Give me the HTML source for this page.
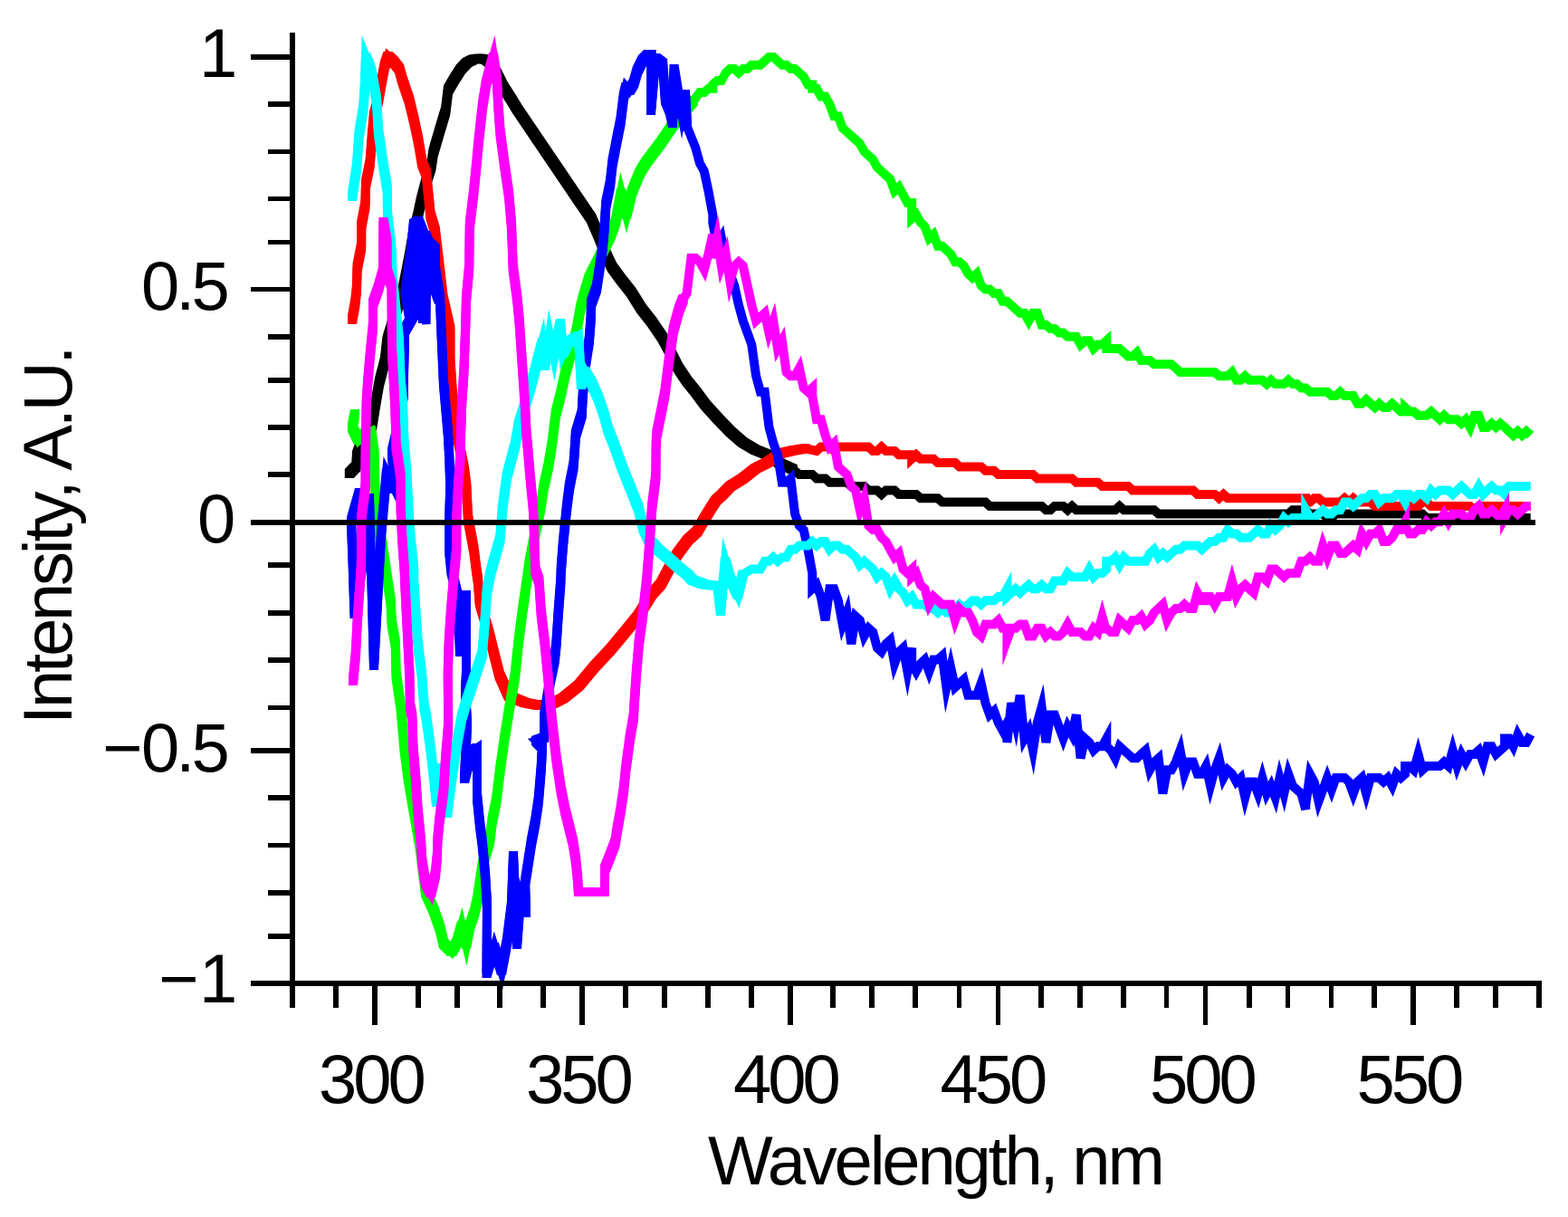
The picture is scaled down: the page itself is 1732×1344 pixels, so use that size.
<!DOCTYPE html>
<html><head><meta charset="utf-8"><title>Intensity vs Wavelength</title><style>
html,body{margin:0;padding:0;background:#fff;overflow:hidden;}
svg{display:block;}
text{font-family:"Liberation Sans",Arial,sans-serif;font-size:76px;fill:#000;letter-spacing:-4px;}
text.t{letter-spacing:-3.2px;}
</style></head><body>
<svg width="1732" height="1344" viewBox="0 0 1732 1344" xmlns="http://www.w3.org/2000/svg">
<rect width="1732" height="1344" fill="#fff"/>
<g stroke-width="10" stroke-linejoin="miter" stroke-miterlimit="6" stroke-linecap="butt">
<path fill="#000" d="M380.8 518 388.5 510 398.5 510 398.5 520 390.8 528 380.8 528ZM388.5 510 389 498 399 498 399 508 398.5 520 388.5 520ZM389 498 392 490 402 490 402 500 399 508 389 508ZM392 490 400 480 410 480 410 490 402 500 392 500ZM400 480 406 465 416 465 416 475 410 490 400 490ZM406 465 410 440 420 440 420 450 416 475 406 475ZM410 440 414 417 424 417 424 427 420 450 410 450ZM414 417 420 394 430 394 430 404 424 427 414 427ZM420 394 422.5 371 432.5 371 432.5 381 430 404 420 404ZM422.5 371 429 350 439 350 439 360 432.5 381 422.5 381ZM429 350 435 332 445 332 445 342 439 360 429 360ZM435 332 438 325 448 325 448 335 445 342 435 342ZM438 325 442.5 302 452.5 302 452.5 312 448 335 438 335ZM442.5 302 447 279 457 279 457 289 452.5 312 442.5 312ZM447 279 451 256 461 256 461 266 457 289 447 289ZM451 256 456.6 233 466.6 233 466.6 243 461 266 451 266ZM456.6 233 460 217 470 217 470 227 466.6 243 456.6 243ZM460 217 465 198 475 198 475 208 470 227 460 227ZM465 198 471.3 179 481.3 179 481.3 189 475 208 465 208ZM471.3 179 473.6 163.6 483.6 163.6 483.6 173.6 481.3 189 471.3 189ZM473.6 163.6 480.3 140.5 490.3 140.5 490.3 150.5 483.6 173.6 473.6 173.6ZM480.3 140.5 487.2 117.4 497.2 117.4 497.2 127.4 490.3 150.5 480.3 150.5ZM487.2 117.4 490 94.3 500 94.3 500 104.3 497.2 127.4 487.2 127.4ZM490 94.3 496.7 82.7 506.7 82.7 506.7 92.7 500 104.3 490 104.3ZM496.7 82.7 504 71.2 514 71.2 514 81.2 506.7 92.7 496.7 92.7ZM504 71.2 511 64 521 64 521 74 514 81.2 504 81.2ZM511 64 518 60.5 528 60.5 528 70.5 521 74 511 74ZM518 60.5 525 59.5 535 59.5 535 69.5 528 70.5 518 70.5ZM525 59.5 535 59.5 542 61 542 71 532 71 525 69.5ZM532 61 542 61 548 66 548 76 538 76 532 71ZM538 66 548 66 554 77 554 87 544 87 538 76ZM544 77 554 77 561 91 561 101 551 101 544 87ZM551 91 561 91 570 105 570 115 560 115 551 101ZM560 105 570 105 576 115 576 125 566 125 560 115ZM566 115 576 115 586 129.8 586 139.8 576 139.8 566 125ZM576 129.8 586 129.8 600 150.4 600 160.4 590 160.4 576 139.8ZM590 150.4 600 150.4 610 165.2 610 175.2 600 175.2 590 160.4ZM600 165.2 610 165.2 619 178.5 619 188.5 609 188.5 600 175.2ZM609 178.5 619 178.5 630 194.7 630 204.7 620 204.7 609 188.5ZM620 194.7 630 194.7 644 215.4 644 225.4 634 225.4 620 204.7ZM634 215.4 644 215.4 658 236 658 246 648 246 634 225.4ZM648 236 658 236 667 257 667 267 657 267 648 246ZM657 257 667 257 674 275 674 285 664 285 657 267ZM664 275 674 275 681 290 681 300 671 300 664 285ZM671 290 681 290 690.5 303 690.5 313 680.5 313 671 300ZM680.5 303 690.5 303 702 317.6 702 327.6 692 327.6 680.5 313ZM692 317.6 702 317.6 713.6 336 713.6 346 703.6 346 692 327.6ZM703.6 336 713.6 336 725 350.4 725 360.4 715 360.4 703.6 346ZM715 350.4 725 350.4 736.7 367.7 736.7 377.7 726.7 377.7 715 360.4ZM726.7 367.7 736.7 367.7 745 383 745 393 735 393 726.7 377.7ZM735 383 745 383 754 401 754 411 744 411 735 393ZM744 401 754 401 764 416 764 426 754 426 744 411ZM754 416 764 416 773 427 773 437 763 437 754 426ZM763 427 773 427 783.9 441.8 783.9 451.8 773.9 451.8 763 437ZM773.9 441.8 783.9 441.8 797.7 457 797.7 467 787.7 467 773.9 451.8ZM787.7 457 797.7 457 811.6 471.6 811.6 481.6 801.6 481.6 787.7 467ZM801.6 471.6 811.6 471.6 825.4 483.4 825.4 493.4 815.4 493.4 801.6 481.6ZM815.4 483.4 825.4 483.4 839.3 491.7 839.3 501.7 829.3 501.7 815.4 493.4ZM829.3 491.7 839.3 491.7 853.1 497.2 853.1 507.2 843.1 507.2 829.3 501.7ZM843.1 497.2 853.1 497.2 867 507 867 517 857 517 843.1 507.2ZM857 507 867 507 880.9 513.2 880.9 523.2 870.9 523.2 857 517Z"/>
<polyline fill="none" stroke="#000" points="385.8,523 393.5,515 394,503 397,495 405,485 411,470 415,445 419,422 425,399 427.5,376 434,355 440,337 443,330 447.5,307 452,284 456,261 461.6,238 465,222 470,203 476.3,184 478.6,168.6 485.3,145.5 492.2,122.4 495,99.3 501.7,87.7 509,76.2 516,69 523,65.5 530,64.5 537,66 543,71 549,82 556,96 565,110 571,120 581,134.8 595,155.4 605,170.2 614,183.5 625,199.7 639,220.4 653,241 662,262 669,280 676,295 685.5,308 697,322.6 708.6,341 720,355.4 731.7,372.7 740,388 749,406 759,421 768,432 778.9,446.8 792.7,462 806.6,476.6 820.4,488.4 834.3,496.7 848.1,502.2 862,512 875.9,518.2 882.9,524.1 887.7,524.1 892.5,524.1 897.3,524.1 902,528.4 906.8,528.4 911.6,528.4 916.4,532.8 921.2,532.8 925.9,532.8 930.7,532.8 935.5,532.8 940.3,537.1 945.1,537.1 949.8,537.1 954.6,537.1 959.4,541.5 964.2,541.5 969,541.5 973.7,545.9 978.5,541.5 983.3,541.5 988.1,541.5 992.9,545.9 997.6,545.9 1002.4,545.9 1007.2,545.9 1012,545.9 1016.8,550.2 1021.5,550.2 1026.3,550.2 1031.1,550.2 1035.9,550.2 1040.7,554.5 1045.4,554.5 1050.2,554.5 1055,554.5 1059.8,554.5 1064.6,554.5 1069.3,554.5 1074.1,554.5 1078.9,554.5 1083.7,554.5 1088.5,554.5 1093.2,558.9 1098,558.9 1102.8,558.9 1107.6,558.9 1112.4,558.9 1117.1,558.9 1121.9,558.9 1126.7,558.9 1131.5,558.9 1136.3,558.9 1141,558.9 1145.8,558.9 1150.6,558.9 1155.4,563.2 1160.2,563.2 1164.9,558.9 1169.7,558.9 1174.5,558.9 1179.3,563.2 1184.1,558.9 1188.8,563.2 1193.6,563.2 1198.4,563.2 1203.2,563.2 1208,563.2 1212.7,563.2 1217.5,563.2 1222.3,563.2 1227.1,563.2 1231.9,563.2 1236.6,558.9 1241.4,563.2 1246.2,563.2 1251,563.2 1255.8,563.2 1260.5,563.2 1265.3,563.2 1270.1,563.2 1274.9,563.2 1279.7,567.6 1284.4,567.6 1289.2,567.6 1294,567.6 1298.8,567.6 1303.6,567.6 1308.3,567.6 1313.1,567.6 1317.9,567.6 1322.7,567.6 1327.5,567.6 1332.2,567.6 1337,567.6 1341.8,567.6 1346.6,567.6 1351.4,567.6 1356.1,567.6 1360.9,567.6 1365.7,567.6 1370.5,567.6 1375.3,567.6 1380,567.6 1384.8,567.6 1389.6,567.6 1394.4,567.6 1399.2,567.6 1403.9,567.6 1408.7,567.6 1413.5,567.6 1418.3,567.6 1423.1,567.6 1427.8,563.2 1432.6,563.2 1437.4,563.2 1442.2,563.2 1447,567.6 1451.7,567.6 1456.5,567.6 1461.3,567.6 1466.1,571.9 1470.9,571.9 1475.6,567.6 1480.4,567.6 1485.2,567.6 1490,567.6 1494.8,567.6 1499.5,567.6 1504.3,567.6 1509.1,567.6 1513.9,567.6 1518.7,567.6 1523.4,567.6 1528.2,567.6 1533,567.6 1537.8,567.6 1542.6,567.6 1547.3,567.6 1552.1,567.6 1556.9,567.6 1561.7,567.6 1566.5,567.6 1571.2,567.6 1576,571.9 1580.8,571.9 1585.6,571.9 1590.4,571.9 1595.1,571.9 1599.9,571.9 1604.7,571.9 1609.5,571.9 1614.3,571.9 1619,571.9 1623.8,571.9 1628.6,571.9 1633.4,571.9 1638.2,571.9 1642.9,571.9 1647.7,571.9 1652.5,571.9 1657.3,571.9 1662.1,571.9 1666.8,571.9 1671.6,571.9 1676.4,571.9 1681.2,571.9 1686,571.9 1690.7,571.9"/>
<path fill="#f00" d="M384 348 387.3 329.7 397.3 329.7 397.3 339.7 394 358 384 358ZM387.3 329.7 389 313.6 399 313.6 399 323.6 397.3 339.7 387.3 339.7ZM389 313.6 389.6 290.5 399.6 290.5 399.6 300.5 399 323.6 389 323.6ZM389.6 290.5 394.2 267 404.2 267 404.2 277 399.6 300.5 389.6 300.5ZM394.2 244 404.2 244 404.2 277 394.2 277ZM394.2 244 398.5 221 408.5 221 408.5 231 404.2 254 394.2 254ZM398.5 221 399 198 409 198 409 208 408.5 231 398.5 231ZM399 198 403.7 175 413.7 175 413.7 185 409 208 399 208ZM403.7 175 406 145 416 145 416 155 413.7 185 403.7 185ZM406 145 408 123 418 123 418 133 416 155 406 155ZM408 123 413 105 423 105 423 115 418 133 408 133ZM413 105 416.5 85 426.5 85 426.5 95 423 115 413 115ZM416.5 85 420 67 430 67 430 77 426.5 95 416.5 95ZM420 67 423.5 57 433.5 57 433.5 67 430 77 420 77ZM423.5 57 433.5 57 439 62 439 72 429 72 423.5 67ZM429 62 439 62 446 71 446 81 436 81 429 72ZM436 71 446 71 449.3 83 449.3 93 439.3 93 436 81ZM439.3 83 449.3 83 457 105.8 457 115.8 447 115.8 439.3 93ZM447 105.8 457 105.8 462.6 129 462.6 139 452.6 139 447 115.8ZM452.6 129 462.6 129 467.4 152 467.4 162 457.4 162 452.6 139ZM457.4 152 467.4 152 471.2 175 471.2 185 461.2 185 457.4 162ZM461.2 175 471.2 175 475.8 186.5 475.8 196.5 465.8 196.5 461.2 185ZM465.8 186.5 475.8 186.5 478.2 209.6 478.2 219.6 468.2 219.6 465.8 196.5ZM468.2 209.6 478.2 209.6 480.5 232.7 480.5 242.7 470.5 242.7 468.2 219.6ZM470.5 232.7 480.5 232.7 485.7 250 485.7 260 475.7 260 470.5 242.7ZM475.7 250 485.7 250 490.5 290.5 490.5 300.5 480.5 300.5 475.7 260ZM480.5 290.5 490.5 290.5 494.5 325 494.5 335 484.5 335 480.5 300.5ZM484.5 325 494.5 325 502.4 359.6 502.4 369.6 492.4 369.6 484.5 335ZM492.4 359.6 502.4 359.6 502.4 404.3 492.4 404.3ZM492.4 394.3 502.4 394.3 504.7 429 504.7 439 494.7 439 492.4 404.3ZM494.7 429 504.7 429 507 463.6 507 473.6 497 473.6 494.7 439ZM497 463.6 507 463.6 510 475 510 485 500 485 497 473.6ZM500 475 510 475 514 495 514 505 504 505 500 485ZM504 495 514 495 518 515 518 525 508 525 504 505ZM508 515 518 515 520.3 532.7 520.3 542.7 510.3 542.7 508 525ZM510.3 532.7 520.3 532.7 522 567.4 522 577.4 512 577.4 510.3 542.7ZM512 567.4 522 567.4 528.4 602 528.4 612 518.4 612 512 577.4ZM518.4 602 528.4 602 531.3 625 531.3 635 521.3 635 518.4 612ZM521.3 625 531.3 625 533 636.5 533 646.5 523 646.5 521.3 635ZM523 636.5 533 636.5 534.7 659.6 534.7 669.6 524.7 669.6 523 646.5ZM524.7 659.6 534.7 659.6 545.1 694.3 545.1 704.3 535.1 704.3 524.7 669.6ZM535.1 694.3 545.1 694.3 550.9 717.4 550.9 727.4 540.9 727.4 535.1 704.3ZM540.9 717.4 550.9 717.4 556.7 740.5 556.7 750.5 546.7 750.5 540.9 727.4ZM546.7 740.5 556.7 740.5 567 763.6 567 773.6 557 773.6 546.7 750.5ZM557 763.6 567 763.6 575 767 575 777 565 777 557 773.6ZM565 767 575 767 585 771 585 781 575 781 565 777ZM575 771 585 771 600 774 600 784 590 784 575 781ZM590 774 605 772 615 772 615 782 600 784 590 784ZM605 772 617 766 627 766 627 776 615 782 605 782ZM617 766 634.3 752 644.3 752 644.3 762 627 776 617 776ZM634.3 752 651.6 731.2 661.6 731.2 661.6 741.2 644.3 762 634.3 762ZM651.6 731.2 668.9 712.8 678.9 712.8 678.9 722.8 661.6 741.2 651.6 741.2ZM668.9 712.8 686.2 692 696.2 692 696.2 702 678.9 722.8 668.9 722.8ZM686.2 692 700 675 710 675 710 685 696.2 702 686.2 702ZM700 675 715 651 725 651 725 661 710 685 700 685ZM715 651 725 640 735 640 735 650 725 661 715 661ZM725 640 734 623 744 623 744 633 735 650 725 650ZM734 623 743 607 753 607 753 617 744 633 734 633ZM743 607 755 591 765 591 765 601 753 617 743 617ZM755 591 765 582 775 582 775 592 765 601 755 601ZM765 582 773 568 783 568 783 578 775 592 765 592ZM773 568 781 555 791 555 791 565 783 578 773 578ZM781 555 786.3 547 796.3 547 796.3 557 791 565 781 565ZM786.3 547 792 542 802 542 802 552 796.3 557 786.3 557ZM792 542 801.6 532 811.6 532 811.6 542 802 552 792 552ZM801.6 532 815.4 523.6 825.4 523.6 825.4 533.6 811.6 542 801.6 542ZM815.4 523.6 829.3 512.5 839.3 512.5 839.3 522.5 825.4 533.6 815.4 533.6ZM829.3 512.5 843.1 505.5 853.1 505.5 853.1 515.5 839.3 522.5 829.3 522.5ZM843.1 505.5 857 495.8 867 495.8 867 505.8 853.1 515.5 843.1 515.5ZM857 495.8 870.9 492.5 880.9 492.5 880.9 502.5 867 505.8 857 505.8ZM870.9 492.5 884.7 490.3 894.7 490.3 894.7 500.3 880.9 502.5 870.9 502.5Z"/>
<polyline fill="none" stroke="#f00" points="389,353 392.3,334.7 394,318.6 394.6,295.5 399.2,272 399.2,249 403.5,226 404,203 408.7,180 411,150 413,128 418,110 421.5,90 425,72 428.5,62 434,67 441,76 444.3,88 452,110.8 457.6,134 462.4,157 466.2,180 470.8,191.5 473.2,214.6 475.5,237.7 480.7,255 485.5,295.5 489.5,330 497.4,364.6 497.4,399.3 499.7,434 502,468.6 505,480 509,500 513,520 515.3,537.7 517,572.4 523.4,607 526.3,630 528,641.5 529.7,664.6 540.1,699.3 545.9,722.4 551.7,745.5 562,768.6 570,772 580,776 595,779 610,777 622,771 639.3,757 656.6,736.2 673.9,717.8 691.2,697 705,680 720,656 730,645 739,628 748,612 760,596 770,587 778,573 786,560 791.3,552 797,547 806.6,537 820.4,528.6 834.3,517.5 848.1,510.5 862,500.8 875.9,497.5 889.7,495.3 902,498 906.8,493.6 911.6,493.6 916.4,493.6 921.2,498 925.9,493.6 930.7,493.6 935.5,493.6 940.3,493.6 945.1,493.6 949.8,493.6 954.6,493.6 959.4,493.6 964.2,498 969,498 973.7,493.6 978.5,498 983.3,498 988.1,498 992.9,502.3 997.6,502.3 1002.4,502.3 1007.2,502.3 1007.2,506.7 1012,502.3 1016.8,506.7 1021.5,506.7 1026.3,506.7 1031.1,506.7 1035.9,511 1040.7,511 1045.4,511 1050.2,511 1055,511 1059.8,515.4 1064.6,515.4 1069.3,515.4 1074.1,515.4 1078.9,515.4 1083.7,515.4 1088.5,519.8 1093.2,519.8 1098,519.8 1102.8,524.1 1107.6,524.1 1112.4,524.1 1117.1,524.1 1121.9,524.1 1126.7,524.1 1131.5,524.1 1136.3,524.1 1141,524.1 1145.8,528.4 1150.6,528.4 1155.4,528.4 1160.2,528.4 1164.9,528.4 1169.7,528.4 1174.5,528.4 1179.3,528.4 1184.1,528.4 1188.8,532.8 1193.6,532.8 1198.4,532.8 1203.2,532.8 1208,532.8 1212.7,532.8 1217.5,537.1 1222.3,537.1 1227.1,537.1 1231.9,537.1 1236.6,537.1 1241.4,537.1 1246.2,537.1 1251,541.5 1255.8,541.5 1260.5,541.5 1265.3,541.5 1270.1,541.5 1274.9,541.5 1279.7,541.5 1284.4,541.5 1289.2,541.5 1294,541.5 1298.8,541.5 1303.6,541.5 1308.3,541.5 1313.1,541.5 1317.9,541.5 1322.7,545.9 1327.5,545.9 1332.2,545.9 1337,545.9 1341.8,545.9 1346.6,550.2 1351.4,545.9 1356.1,550.2 1360.9,550.2 1365.7,550.2 1370.5,550.2 1375.3,550.2 1380,550.2 1384.8,550.2 1389.6,550.2 1394.4,550.2 1399.2,550.2 1403.9,550.2 1408.7,550.2 1413.5,550.2 1418.3,550.2 1423.1,550.2 1427.8,550.2 1432.6,550.2 1437.4,550.2 1442.2,550.2 1442.2,554.5 1447,554.5 1451.7,550.2 1456.5,550.2 1461.3,554.5 1466.1,554.5 1470.9,554.5 1475.6,554.5 1480.4,554.5 1485.2,550.2 1490,554.5 1494.8,550.2 1499.5,554.5 1504.3,554.5 1509.1,554.5 1513.9,554.5 1518.7,558.9 1523.4,558.9 1528.2,558.9 1533,558.9 1537.8,558.9 1542.6,558.9 1547.3,558.9 1552.1,558.9 1556.9,558.9 1561.7,558.9 1566.5,558.9 1571.2,554.5 1576,554.5 1580.8,558.9 1585.6,558.9 1590.4,558.9 1595.1,558.9 1599.9,558.9 1604.7,558.9 1609.5,558.9 1614.3,558.9 1619,558.9 1623.8,558.9 1628.6,563.2 1633.4,558.9 1638.2,558.9 1642.9,558.9 1647.7,558.9 1652.5,558.9 1657.3,558.9 1662.1,558.9 1666.8,558.9 1671.6,558.9 1676.4,558.9 1681.2,558.9 1686,558.9 1690.7,558.9"/>
<path fill="#0f0" d="M384 467 387 452 397 452 397 462 394 477 384 477ZM384 467 394 467 401 481 401 491 391 491 384 477ZM391 481 399 473 409 473 409 483 401 491 391 491ZM399 473 405 471 415 471 415 481 409 483 399 483ZM405 471 415 471 418.7 498 418.7 508 408.7 508 405 481ZM408.7 498 418.7 498 419.3 532.7 419.3 542.7 409.3 542.7 408.7 508ZM409.3 532.7 419.3 532.7 421 567.4 421 577.4 411 577.4 409.3 542.7ZM411 567.4 421 567.4 427 595 427 605 417 605 411 577.4ZM417 595 427 595 433.1 636.5 433.1 646.5 423.1 646.5 417 605ZM423.1 636.5 433.1 636.5 436.6 659.6 436.6 669.6 426.6 669.6 423.1 646.5ZM426.6 659.6 436.6 659.6 437.7 682.7 437.7 692.7 427.7 692.7 426.6 669.6ZM427.7 682.7 437.7 682.7 441.8 705.8 441.8 715.8 431.8 715.8 427.7 692.7ZM431.8 705.8 441.8 705.8 442.6 740.5 442.6 750.5 432.6 750.5 431.8 715.8ZM432.6 740.5 442.6 740.5 447.6 775 447.6 785 437.6 785 432.6 750.5ZM437.6 775 447.6 775 451.6 821 451.6 831 441.6 831 437.6 785ZM441.6 821 451.6 821 456.2 856 456.2 866 446.2 866 441.6 831ZM446.2 856 456.2 856 462 890 462 900 452 900 446.2 866ZM452 890 462 890 469 930 469 940 459 940 452 900ZM459 930 469 930 475 980 475 990 465 990 459 940ZM465 980 475 980 484 1000 484 1010 474 1010 465 990ZM474 1000 484 1000 491 1020 491 1030 481 1030 474 1010ZM481 1020 491 1020 495 1037 495 1047 485 1047 481 1030ZM485 1037 495 1037 504 1046 504 1056 494 1056 485 1047ZM494 1046 500 1035 510 1035 510 1045 504 1056 494 1056ZM500 1035 505 1017 515 1017 515 1027 510 1045 500 1045ZM505 1017 515 1017 520 1038 520 1048 510 1048 505 1027ZM510 1038 514 1017 524 1017 524 1027 520 1048 510 1048ZM514 1017 519 1003 529 1003 529 1013 524 1027 514 1027ZM519 1003 522 990 532 990 532 1000 529 1013 519 1013ZM522 990 525 970 535 970 535 980 532 1000 522 1000ZM525 970 528 950 538 950 538 960 535 980 525 980ZM528 950 533 933 543 933 543 943 538 960 528 960ZM533 933 536 923 546 923 546 933 543 943 533 943ZM536 923 538.6 902 548.6 902 548.6 912 546 933 536 933ZM538.6 902 543.2 879 553.2 879 553.2 889 548.6 912 538.6 912ZM543.2 879 547.5 844.3 557.5 844.3 557.5 854.3 553.2 889 543.2 889ZM547.5 844.3 552.4 809.6 562.4 809.6 562.4 819.6 557.5 854.3 547.5 854.3ZM552.4 809.6 558 775 568 775 568 785 562.4 819.6 552.4 819.6ZM558 775 564 740.5 574 740.5 574 750.5 568 785 558 785ZM564 740.5 567.5 706 577.5 706 577.5 716 574 750.5 564 750.5ZM567.5 706 572 671 582 671 582 681 577.5 716 567.5 716ZM572 671 577 636.5 587 636.5 587 646.5 582 681 572 681ZM577 636.5 580 615 590 615 590 625 587 646.5 577 646.5ZM580 615 585 590 595 590 595 600 590 625 580 625ZM585 590 592.1 555.8 602.1 555.8 602.1 565.8 595 600 585 600ZM592.1 555.8 595.6 532.7 605.6 532.7 605.6 542.7 602.1 565.8 592.1 565.8ZM595.6 532.7 600.8 509.6 610.8 509.6 610.8 519.6 605.6 542.7 595.6 542.7ZM600.8 509.6 604.6 486.5 614.6 486.5 614.6 496.5 610.8 519.6 600.8 519.6ZM604.6 486.5 608.9 452 618.9 452 618.9 462 614.6 496.5 604.6 496.5ZM608.9 452 614.7 429 624.7 429 624.7 439 618.9 462 608.9 462ZM614.7 429 619.8 405.8 629.8 405.8 629.8 415.8 624.7 439 614.7 439ZM619.8 405.8 626.2 382.7 636.2 382.7 636.2 392.7 629.8 415.8 619.8 415.8ZM626.2 382.7 632 359.6 642 359.6 642 369.6 636.2 392.7 626.2 392.7ZM632 359.6 636 336.5 646 336.5 646 346.5 642 369.6 632 369.6ZM636 336.5 638.9 325 648.9 325 648.9 335 646 346.5 636 346.5ZM638.9 325 645.8 302 655.8 302 655.8 312 648.9 335 638.9 335ZM645.8 302 657.4 279 667.4 279 667.4 289 655.8 312 645.8 312ZM657.4 279 669 256 679 256 679 266 667.4 289 657.4 289ZM669 256 675 240 685 240 685 250 679 266 669 266ZM675 240 681 208 691 208 691 218 685 250 675 250ZM681 208 691 208 697 232 697 242 687 242 681 218ZM687 232 693 207 703 207 703 217 697 242 687 242ZM693 207 701.3 186.5 711.3 186.5 711.3 196.5 703 217 693 217ZM701.3 186.5 708.2 175 718.2 175 718.2 185 711.3 196.5 701.3 196.5ZM708.2 175 725.5 152 735.5 152 735.5 162 718.2 185 708.2 185ZM725.5 152 737 134.7 747 134.7 747 144.7 735.5 162 725.5 162ZM737 134.7 749 120 759 120 759 130 747 144.7 737 144.7ZM749 120 761 106 771 106 771 116 759 130 749 130Z"/>
<polyline fill="none" stroke="#0f0" points="392,457 389,472 396,486 404,478 410,476 413.7,503 414.3,537.7 416,572.4 422,600 428.1,641.5 431.6,664.6 432.7,687.7 436.8,710.8 437.6,745.5 442.6,780 446.6,826 451.2,861 457,895 464,935 470,985 479,1005 486,1025 490,1042 499,1051 505,1040 510,1022 515,1043 519,1022 524,1008 527,995 530,975 533,955 538,938 541,928 543.6,907 548.2,884 552.5,849.3 557.4,814.6 563,780 569,745.5 572.5,711 577,676 582,641.5 585,620 590,595 597.1,560.8 600.6,537.7 605.8,514.6 609.6,491.5 613.9,457 619.7,434 624.8,410.8 631.2,387.7 637,364.6 641,341.5 643.9,330 650.8,307 662.4,284 674,261 680,245 686,213 692,237 698,212 706.3,191.5 713.2,180 730.5,157 742,139.7 754,125 766,111 773,102.1 777.8,102.1 782.5,97.8 787.3,97.8 787.3,93.4 792.1,89.1 796.9,89.1 801.7,80.4 806.4,76 811.2,76 816,80.4 820.8,76 825.6,76 830.3,71.7 835.1,71.7 839.9,71.7 844.7,67.3 849.5,63 854.2,63 859,67.3 863.8,71.7 868.6,71.7 873.4,76 878.1,76 882.9,80.4 887.7,84.7 892.5,93.4 897.3,93.4 897.3,97.8 902,97.8 906.8,106.5 911.6,106.5 916.4,115.2 921.2,128.2 925.9,128.2 930.7,141.3 935.5,145.6 940.3,150 945.1,154.3 949.8,158.7 954.6,167.4 959.4,171.7 964.2,176.1 969,184.8 973.7,189.1 978.5,193.5 983.3,197.8 988.1,210.9 992.9,206.5 997.6,215.2 1002.4,223.9 1007.2,223.9 1007.2,241.3 1012,237 1016.8,245.7 1021.5,250 1026.3,263.1 1031.1,258.8 1035.9,271.8 1040.7,271.8 1045.4,276.1 1050.2,280.5 1055,289.2 1059.8,289.2 1064.6,293.6 1069.3,302.2 1074.1,306.6 1078.9,302.2 1083.7,315.3 1088.5,319.6 1093.2,319.6 1098,324 1102.8,324 1107.6,332.7 1112.4,332.7 1117.1,337.1 1121.9,341.4 1126.7,345.8 1131.5,345.8 1136.3,354.4 1141,345.8 1145.8,345.8 1150.6,358.8 1155.4,358.8 1160.2,363.1 1164.9,363.1 1169.7,367.5 1174.5,367.5 1179.3,371.8 1184.1,371.8 1188.8,371.8 1193.6,380.6 1198.4,376.2 1203.2,376.2 1208,384.9 1212.7,380.6 1217.5,380.6 1222.3,376.2 1222.3,384.9 1227.1,384.9 1231.9,384.9 1236.6,384.9 1241.4,389.2 1246.2,393.6 1251,393.6 1255.8,389.2 1260.5,397.9 1265.3,397.9 1270.1,397.9 1274.9,402.3 1279.7,402.3 1284.4,402.3 1289.2,402.3 1294,402.3 1298.8,406.6 1303.6,411 1308.3,411 1313.1,411 1317.9,411 1322.7,411 1327.5,411 1332.2,411 1337,411 1341.8,411 1346.6,415.3 1351.4,415.3 1356.1,415.3 1360.9,411 1365.7,419.7 1370.5,419.7 1375.3,415.3 1380,419.7 1384.8,419.7 1389.6,419.7 1394.4,419.7 1399.2,424.1 1403.9,419.7 1408.7,424.1 1413.5,424.1 1418.3,424.1 1423.1,419.7 1427.8,424.1 1432.6,424.1 1437.4,428.4 1442.2,428.4 1447,432.8 1451.7,432.8 1456.5,432.8 1461.3,432.8 1466.1,432.8 1470.9,437.1 1475.6,437.1 1480.4,432.8 1485.2,437.1 1490,437.1 1494.8,437.1 1499.5,445.8 1504.3,445.8 1509.1,441.4 1513.9,445.8 1518.7,450.1 1523.4,445.8 1528.2,450.1 1533,450.1 1537.8,445.8 1542.6,450.1 1547.3,454.5 1552.1,454.5 1552.1,450.1 1556.9,454.5 1561.7,454.5 1566.5,458.8 1571.2,458.8 1576,458.8 1580.8,454.5 1585.6,458.8 1590.4,463.2 1595.1,458.8 1599.9,463.2 1604.7,463.2 1609.5,463.2 1614.3,467.6 1619,463.2 1623.8,471.9 1628.6,458.8 1633.4,458.8 1638.2,471.9 1642.9,471.9 1647.7,467.6 1652.5,471.9 1657.3,467.6 1662.1,471.9 1666.8,476.2 1671.6,480.6 1676.4,476.2 1681.2,480.6 1686,476.2 1690.7,480.6"/>
<polygon fill="#00f" points="455.8,239 466.8,239 467.5,278 470.4,256 486,270 486,321 490.7,334 480,336 476,325 475.6,358 466.3,358.6 463,334 462,349 451.7,349 447,352 442.3,324 447,286 451,265"/>
<path fill="#00f" d="M383 571 392 539 402 539 402 549 393 581 383 581ZM383 571 393 571 395 625 395 635 385 635 383 581ZM385 625 395 625 396.5 673 396.5 683 386.5 683 385 635ZM386.5 673 399 595 409 595 409 605 396.5 683 386.5 683ZM399 595 403 545 413 545 413 555 409 605 399 605ZM403 545 413 545 418 730 418 740 408 740 403 555ZM408 730 416 585 426 585 426 595 418 740 408 740ZM416 585 422 517 432 517 432 527 426 595 416 595ZM422 517 432 517 441 535 441 545 431 545 422 527ZM428 495 438 495 441 535 441 545 431 545 428 505ZM428 495 435 465 445 465 445 475 438 505 428 505ZM435 465 441 429 451 429 451 439 445 475 435 475ZM441 406 451 406 451 439 441 439ZM441 406 441.6 383 451.6 383 451.6 393 451 416 441 416ZM441.6 383 442 360 452 360 452 370 451.6 393 441.6 393ZM442 360 454 339 464 339 464 349 452 370 442 370ZM447 295 457 295 464 339 464 349 454 349 447 305ZM447 295 452 242 462 242 462 252 457 305 447 305ZM452 242 457 240 467 240 467 250 462 252 452 252ZM457 240 467 240 470 295 470 305 460 305 457 250ZM460 295 470 295 472 347 472 357 462 357 460 305ZM462 347 465 255 475 255 475 265 472 357 462 357ZM465 255 475 255 483 275 483 285 473 285 465 265ZM473 275 483 275 491 325 491 335 481 335 473 285ZM481 325 491 325 492.4 359.6 492.4 369.6 482.4 369.6 481 335ZM482.4 359.6 492.4 359.6 495 417.4 495 427.4 485 427.4 482.4 369.6ZM485 417.4 495 417.4 500 475 500 485 490 485 485 427.4ZM490 475 500 475 501.2 498 501.2 508 491.2 508 490 485ZM491.2 498 501.2 498 502.4 532.7 502.4 542.7 492.4 542.7 491.2 508ZM491.2 567.4 492.4 532.7 502.4 532.7 502.4 542.7 501.2 577.4 491.2 577.4ZM491.2 567.4 501.2 567.4 501.2 612 491.2 612ZM491.2 602 501.2 602 503.5 625 503.5 635 493.5 635 491.2 612ZM493.5 625 503.5 625 511 655 511 665 501 665 493.5 635ZM501 655 511 655 513 715 513 725 503 725 501 665ZM503 715 510 652 520 652 520 662 513 725 503 725ZM510 652 520 652 520 750 510 750ZM509 760 510 740 520 740 520 750 519 770 509 770ZM509 760 519 760 521 795 521 805 511 805 509 770ZM508 855 511 795 521 795 521 805 518 865 508 865ZM508 855 516 825 526 825 526 835 518 865 508 865ZM516 825 522 821 532 821 532 831 526 835 516 835ZM522 821 532 821 532 885 522 885ZM522 875 532 875 535 905 535 915 525 915 522 885ZM525 905 535 905 537.6 925 537.6 935 527.6 935 525 915ZM527.6 925 537.6 925 541 961 541 971 531 971 527.6 935ZM531 961 541 961 543 995 543 1005 533 1005 531 971ZM532.5 1070 533 995 543 995 543 1005 542.5 1080 532.5 1080ZM532.5 1070 541 1041 551 1041 551 1051 542.5 1080 532.5 1080ZM541 1041 551 1041 559 1067 559 1077 549 1077 541 1051ZM549 1067 555 1035 565 1035 565 1045 559 1077 549 1077ZM555 1035 560 995 570 995 570 1005 565 1045 555 1045ZM560 995 562 940 572 940 572 950 570 1005 560 1005ZM562 940 572 940 576 1038 576 1048 566 1048 562 950ZM566 1038 570 985 580 985 580 995 576 1048 566 1048ZM570 985 580 985 586 1003 586 1013 576 1013 570 995ZM575 970 585 970 586 1003 586 1013 576 1013 575 980ZM575 970 582 925 592 925 592 935 585 980 575 980ZM582 925 586.4 902 596.4 902 596.4 912 592 935 582 935ZM586.4 902 589.8 879 599.8 879 599.8 889 596.4 912 586.4 912ZM589.8 879 592.7 844.3 602.7 844.3 602.7 854.3 599.8 889 589.8 889ZM592.7 844.3 594 820 604 820 604 830 602.7 854.3 592.7 854.3ZM587 813 597 813 604 820 604 830 594 830 587 823ZM587 813 596.2 809.6 606.2 809.6 606.2 819.6 597 823 587 823ZM596.2 786.5 606.2 786.5 606.2 819.6 596.2 819.6ZM596.2 786.5 598 775 608 775 608 785 606.2 796.5 596.2 796.5ZM598 775 603 745 613 745 613 755 608 785 598 785ZM603 745 607.7 723 617.7 723 617.7 733 613 755 603 755ZM607.7 723 609.5 705.8 619.5 705.8 619.5 715.8 617.7 733 607.7 733ZM609.5 705.8 611.8 671.2 621.8 671.2 621.8 681.2 619.5 715.8 609.5 715.8ZM611.8 671.2 614.4 636.5 624.4 636.5 624.4 646.5 621.8 681.2 611.8 681.2ZM614.4 636.5 614.7 625 624.7 625 624.7 635 624.4 646.5 614.4 646.5ZM614.7 625 617 595 627 595 627 605 624.7 635 614.7 635ZM617 595 621 555.8 631 555.8 631 565.8 627 605 617 605ZM621 555.8 623.9 532.7 633.9 532.7 633.9 542.7 631 565.8 621 565.8ZM623.9 532.7 628.5 509.6 638.5 509.6 638.5 519.6 633.9 542.7 623.9 542.7ZM628.5 509.6 630.2 486.5 640.2 486.5 640.2 496.5 638.5 519.6 628.5 519.6ZM630.2 486.5 630.8 475 640.8 475 640.8 485 640.2 496.5 630.2 496.5ZM630.8 475 637.7 452 647.7 452 647.7 462 640.8 485 630.8 485ZM637.7 452 638.9 429 648.9 429 648.9 439 647.7 462 637.7 462ZM638.9 429 642 395 652 395 652 405 648.9 439 638.9 439ZM642 395 645.8 371 655.8 371 655.8 381 652 405 642 405ZM645.8 371 647.6 348 657.6 348 657.6 358 655.8 381 645.8 381ZM647.6 348 648 330 658 330 658 340 657.6 358 647.6 358ZM648 330 653.9 313.6 663.9 313.6 663.9 323.6 658 340 648 340ZM653.9 313.6 657.4 290.5 667.4 290.5 667.4 300.5 663.9 323.6 653.9 323.6ZM657.4 290.5 660.8 267.4 670.8 267.4 670.8 277.4 667.4 300.5 657.4 300.5ZM660.8 267.4 662.8 244.3 672.8 244.3 672.8 254.3 670.8 277.4 660.8 277.4ZM662.8 244.3 664.3 221 674.3 221 674.3 231 672.8 254.3 662.8 254.3ZM664.3 221 669 198 679 198 679 208 674.3 231 664.3 231ZM669 198 671.5 175 681.5 175 681.5 185 679 208 669 208ZM671.5 175 675.9 152 685.9 152 685.9 162 681.5 185 671.5 185ZM675.9 152 680.5 129 690.5 129 690.5 139 685.9 162 675.9 162ZM680.5 129 684 101 694 101 694 111 690.5 139 680.5 139ZM684 101 686.5 91 696.5 91 696.5 101 694 111 684 111ZM686.5 91 696.5 91 700 95 700 105 690 105 686.5 101ZM690 95 695 87 705 87 705 97 700 105 690 105ZM695 87 699 73 709 73 709 83 705 97 695 97ZM699 73 705 61 715 61 715 71 709 83 699 83ZM705 61 711 55 721 55 721 65 715 71 705 71ZM711 55 724.5 55 724.5 65 711 65ZM714 117 714.5 55 724.5 55 724.5 65 724 127 714 127ZM714 117 719 59 729 59 729 69 724 127 714 127ZM719 59 729 59 737 65 737 75 727 75 719 69ZM727 65 737 65 740 105 740 115 730 115 727 75ZM730 105 740 105 745 117 745 127 735 127 730 115ZM735 117 745 117 748 131 748 141 738 141 735 127ZM738 131 739.5 71 749.5 71 749.5 81 748 141 738 141ZM739.5 71 749.5 71 755 105 755 115 745 115 739.5 81ZM745 105 755 105 758 121 758 131 748 131 745 115ZM748 121 752 99 762 99 762 109 758 131 748 131ZM752 99 762 99 764 135 764 145 754 145 752 109Z"/>
<polyline fill="none" stroke="#00f" points="397,544 388,576 390,630 391.5,678 404,600 408,550 413,735 421,590 427,522 436,540 433,500 440,470 446,434 446,411 446.6,388 447,365 459,344 452,300 457,247 462,245 465,300 467,352 470,260 478,280 486,330 487.4,364.6 490,422.4 495,480 496.2,503 497.4,537.7 496.2,572.4 496.2,607 498.5,630 506,660 508,720 515,657 515,745 514,765 516,800 513,860 521,830 527,826 527,880 530,910 532.6,930 536,966 538,1000 537.5,1075 546,1046 554,1072 560,1040 565,1000 567,945 571,1043 575,990 581,1008 580,975 587,930 591.4,907 594.8,884 597.7,849.3 599,825 592,818 601.2,814.6 601.2,791.5 603,780 608,750 612.7,728 614.5,710.8 616.8,676.2 619.4,641.5 619.7,630 622,600 626,560.8 628.9,537.7 633.5,514.6 635.2,491.5 635.8,480 642.7,457 643.9,434 647,400 650.8,376 652.6,353 653,335 658.9,318.6 662.4,295.5 665.8,272.4 667.8,249.3 669.3,226 674,203 676.5,180 680.9,157 685.5,134 689,106 691.5,96 695,100 700,92 704,78 710,66 716,60 719.5,60 719,122 724,64 732,70 735,110 740,122 743,136 744.5,76 750,110 753,126 757,104 759,140 768.2,163 773,180.4 777.8,189.1 782.5,210.9 787.3,237 787.3,245.7 792.1,271.8 796.9,263.1 801.7,289.2 806.4,302.2 811.2,315.3 816,337.1 820.8,354.4 825.6,367.5 830.3,380.6 835.1,415.3 839.9,432.8 844.7,432.8 849.5,471.9 854.2,489.3 859,502.3 863.8,532.8 868.6,532.8 873.4,528.4 878.1,567.6 882.9,580.6 887.7,585 892.5,606.8 897.3,632.9 897.3,650.2 902,645.9 906.8,658.9 911.6,685 916.4,650.2 921.2,650.2 925.9,663.3 930.7,689.4 935.5,676.4 940.3,711.1 945.1,680.7 949.8,685 954.6,702.4 959.4,693.8 964.2,698.1 969,715.5 973.7,719.8 978.5,711.1 983.3,706.8 988.1,732.9 992.9,719.8 997.6,715.5 1002.4,741.6 1007.2,715.5 1007.2,732.9 1012,741.6 1016.8,732.9 1021.5,728.5 1026.3,741.6 1031.1,728.5 1035.9,728.5 1040.7,724.2 1045.4,759 1050.2,737.2 1055,759 1059.8,754.6 1064.6,750.3 1069.3,767.7 1074.1,767.7 1078.9,767.7 1083.7,754.6 1088.5,776.4 1093.2,789.4 1098,785.1 1102.8,798.1 1107.6,806.8 1112.4,798.1 1112.4,819.9 1117.1,776.4 1121.9,798.1 1126.7,767.7 1131.5,815.5 1136.3,806.8 1141,828.6 1145.8,798.1 1150.6,780.8 1155.4,819.9 1160.2,789.4 1164.9,789.4 1169.7,802.5 1174.5,815.5 1179.3,802.5 1184.1,811.2 1188.8,789.4 1193.6,837.3 1198.4,815.5 1203.2,819.9 1208,828.6 1212.7,824.2 1217.5,824.2 1222.3,815.5 1222.3,824.2 1227.1,828.6 1231.9,837.3 1236.6,824.2 1241.4,828.6 1246.2,832.9 1251,837.3 1255.8,837.3 1260.5,832.9 1265.3,828.6 1270.1,850.3 1274.9,841.6 1279.7,837.3 1284.4,876.4 1289.2,850.3 1294,850.3 1298.8,841.6 1303.6,828.6 1308.3,854.7 1313.1,841.6 1317.9,841.6 1322.7,854.7 1327.5,854.7 1332.2,846 1337,867.8 1341.8,850.3 1346.6,837.3 1351.4,859 1356.1,850.3 1360.9,854.7 1365.7,863.4 1370.5,859 1375.3,880.8 1380,863.4 1384.8,863.4 1389.6,876.4 1394.4,859 1399.2,876.4 1403.9,867.8 1408.7,880.8 1413.5,859 1418.3,876.4 1423.1,854.7 1427.8,867.8 1432.6,872.1 1437.4,876.4 1442.2,893.8 1442.2,889.5 1447,854.7 1451.7,863.4 1456.5,885.1 1461.3,872.1 1466.1,859 1470.9,872.1 1475.6,859 1480.4,859 1485.2,859 1490,863.4 1494.8,876.4 1499.5,863.4 1504.3,859 1509.1,876.4 1513.9,859 1518.7,859 1523.4,859 1528.2,863.4 1533,859 1537.8,867.8 1542.6,854.7 1547.3,859 1552.1,854.7 1552.1,846 1556.9,846 1561.7,850.3 1566.5,832.9 1571.2,850.3 1576,846 1580.8,846 1585.6,846 1590.4,846 1595.1,841.6 1599.9,846 1604.7,828.6 1609.5,846 1614.3,832.9 1619,841.6 1623.8,832.9 1628.6,832.9 1633.4,828.6 1638.2,841.6 1642.9,824.2 1647.7,824.2 1652.5,832.9 1657.3,828.6 1662.1,824.2 1662.1,815.5 1666.8,815.5 1671.6,824.2 1676.4,811.2 1681.2,819.9 1686,819.9 1690.7,811.2"/>
<path fill="#0ff" d="M384 212 389 180 399 180 399 190 394 222 384 222ZM389 180 391.4 145 401.4 145 401.4 155 399 190 389 190ZM391.4 145 396.3 115 406.3 115 406.3 125 401.4 155 391.4 155ZM396.3 115 398 90 408 90 408 100 406.3 125 396.3 125ZM398 90 399 58 409 58 409 68 408 100 398 100ZM399 58 409 58 415 73 415 83 405 83 399 68ZM405 73 415 73 421 106 421 116 411 116 405 83ZM411 106 421 106 423 140 423 150 413 150 411 116ZM413 140 423 140 428 175 428 185 418 185 413 150ZM418 175 428 175 432.8 204 432.8 214 422.8 214 418 185ZM422.8 204 432.8 204 433 232.7 433 242.7 423 242.7 422.8 214ZM423 232.7 433 232.7 436 257 436 267 426 267 423 242.7ZM426 257 436 257 438 279 438 289 428 289 426 267ZM428 279 438 279 438.5 302 438.5 312 428.5 312 428 289ZM428.5 302 438.5 302 442 335 442 345 432 345 428.5 312ZM432 335 442 335 445.8 371 445.8 381 435.8 381 432 345ZM435.8 371 445.8 371 447.6 417.4 447.6 427.4 437.6 427.4 435.8 381ZM437.6 417.4 447.6 417.4 449.9 440.5 449.9 450.5 439.9 450.5 437.6 427.4ZM439.9 440.5 449.9 440.5 451 475 451 485 441 485 439.9 450.5ZM441 475 451 475 451.6 486.5 451.6 496.5 441.6 496.5 441 485ZM441.6 486.5 451.6 486.5 454.5 521 454.5 531 444.5 531 441.6 496.5ZM444.5 521 454.5 521 456.2 556 456.2 566 446.2 566 444.5 531ZM446.2 556 456.2 556 458.5 590.5 458.5 600.5 448.5 600.5 446.2 566ZM448.5 590.5 458.5 590.5 462.2 625 462.2 635 452.2 635 448.5 600.5ZM452 636.5 452.2 625 462.2 625 462.2 635 462 646.5 452 646.5ZM452 636.5 462 636.5 464.3 671 464.3 681 454.3 681 452 646.5ZM454.3 671 464.3 671 466.6 705.8 466.6 715.8 456.6 715.8 454.3 681ZM456.6 705.8 466.6 705.8 470.9 740.5 470.9 750.5 460.9 750.5 456.6 715.8ZM460.9 740.5 470.9 740.5 473.5 775 473.5 785 463.5 785 460.9 750.5ZM463.5 775 473.5 775 475.8 786.5 475.8 796.5 465.8 796.5 463.5 785ZM465.8 786.5 475.8 786.5 480.5 821 480.5 831 470.5 831 465.8 796.5ZM470.5 821 480.5 821 484.5 856 484.5 866 474.5 866 470.5 831ZM474.5 856 484.5 856 487 881 487 891 477 891 474.5 866ZM477 881 482 843 492 843 492 853 487 891 477 891ZM482 843 492 843 499 893 499 903 489 903 482 853ZM489 893 495 847 505 847 505 857 499 903 489 903ZM495 847 500 815 510 815 510 825 505 857 495 857ZM500 815 505 787 515 787 515 797 510 825 500 825ZM505 787 508.6 775 518.6 775 518.6 785 515 797 505 797ZM508.6 775 520.1 740.5 530.1 740.5 530.1 750.5 518.6 785 508.6 785ZM520.1 740.5 527.6 717.4 537.6 717.4 537.6 727.4 530.1 750.5 520.1 750.5ZM527.6 717.4 530.5 682.7 540.5 682.7 540.5 692.7 537.6 727.4 527.6 727.4ZM530.5 682.7 532.8 648 542.8 648 542.8 658 540.5 692.7 530.5 692.7ZM532.8 648 537.4 625 547.4 625 547.4 635 542.8 658 532.8 658ZM537.4 625 547.3 590.5 557.3 590.5 557.3 600.5 547.4 635 537.4 635ZM547.3 590.5 550.1 556 560.1 556 560.1 566 557.3 600.5 547.3 600.5ZM550.1 556 554.8 521 564.8 521 564.8 531 560.1 566 550.1 566ZM554.8 521 564 486.5 574 486.5 574 496.5 564.8 531 554.8 531ZM564 486.5 568 463.6 578 463.6 578 473.6 574 496.5 564 496.5ZM568 463.6 581 423 591 423 591 433 578 473.6 568 473.6ZM581 423 587 400 597 400 597 410 591 433 581 433ZM587 400 594 373 604 373 604 383 597 410 587 410ZM594 373 604 373 607 399 607 409 597 409 594 383ZM597 399 602 365 612 365 612 375 607 409 597 409ZM602 365 612 365 617 389 617 399 607 399 602 375ZM607 389 611 365 621 365 621 375 617 399 607 399ZM611 365 614 352 624 352 624 362 621 375 611 375ZM614 352 624 352 627 385 627 395 617 395 614 362ZM617 385 623 373 633 373 633 383 627 395 617 395ZM623 373 629 369 639 369 639 379 633 383 623 383ZM629 369 634 366 644 366 644 376 639 379 629 379ZM634 366 644 366 647 420 647 430 637 430 634 376ZM637 420 641 405 651 405 651 415 647 430 637 430ZM641 405 651 405 658 417 658 427 648 427 641 415ZM648 417 658 417 666 434.7 666 444.7 656 444.7 648 427ZM656 434.7 666 434.7 672 452 672 462 662 462 656 444.7ZM662 452 672 452 676.6 469.3 676.6 479.3 666.6 479.3 662 462ZM666.6 469.3 676.6 469.3 681 480 681 490 671 490 666.6 479.3ZM671 480 681 480 683.5 486.5 683.5 496.5 673.5 496.5 671 490ZM673.5 486.5 683.5 486.5 691.6 509.6 691.6 519.6 681.6 519.6 673.5 496.5ZM681.6 509.6 691.6 509.6 700.9 532.7 700.9 542.7 690.9 542.7 681.6 519.6ZM690.9 532.7 700.9 532.7 710.1 555.8 710.1 565.8 700.1 565.8 690.9 542.7ZM700.1 555.8 710.1 555.8 715.9 579 715.9 589 705.9 589 700.1 565.8ZM705.9 579 715.9 579 721 590 721 600 711 600 705.9 589ZM711 590 721 590 732 602 732 612 722 612 711 600ZM722 602 732 602 745 613 745 623 735 623 722 612ZM735 613 745 613 755 622 755 632 745 632 735 623ZM745 622 755 622 765 630 765 640 755 640 745 632ZM755 630 765 630 770 635.7 770 645.7 760 645.7 755 640ZM760 635.7 770 635.7 783.9 640.5 783.9 650.5 773.9 650.5 760 645.7ZM773.9 640.5 783.9 640.5 797.7 642 797.7 652 787.7 652 773.9 650.5ZM787.7 642 797.7 642 801 670 801 680 791 680 787.7 652ZM791 670 796 615 806 615 806 625 801 680 791 680ZM796 615 806 615 811.6 634.3 811.6 644.3 801.6 644.3 796 625ZM801.6 634.3 811.6 634.3 820 652 820 662 810 662 801.6 644.3ZM810 652 815.4 629.4 825.4 629.4 825.4 639.4 820 662 810 662Z"/>
<polyline fill="none" stroke="#0ff" points="389,217 394,185 396.4,150 401.3,120 403,95 404,63 410,78 416,111 418,145 423,180 427.8,209 428,237.7 431,262 433,284 433.5,307 437,340 440.8,376 442.6,422.4 444.9,445.5 446,480 446.6,491.5 449.5,526 451.2,561 453.5,595.5 457.2,630 457,641.5 459.3,676 461.6,710.8 465.9,745.5 468.5,780 470.8,791.5 475.5,826 479.5,861 482,886 487,848 494,898 500,852 505,820 510,792 513.6,780 525.1,745.5 532.6,722.4 535.5,687.7 537.8,653 542.4,630 552.3,595.5 555.1,561 559.8,526 569,491.5 573,468.6 586,428 592,405 599,378 602,404 607,370 612,394 616,370 619,357 622,390 628,378 634,374 639,371 642,425 646,410 653,422 661,439.7 667,457 671.6,474.3 676,485 678.5,491.5 686.6,514.6 695.9,537.7 705.1,560.8 710.9,584 716,595 727,607 740,618 750,627 760,635 765,640.7 778.9,645.5 792.7,647 796,675 801,620 806.6,639.3 815,657 820.4,634.4 830.3,628.5 835.1,628.5 839.9,628.5 844.7,619.8 849.5,619.8 854.2,615.4 859,619.8 863.8,615.4 868.6,615.4 873.4,606.8 878.1,606.8 882.9,602.4 887.7,602.4 892.5,602.4 897.3,598 902,602.4 906.8,598 911.6,598 916.4,606.8 921.2,602.4 925.9,602.4 930.7,606.8 935.5,606.8 940.3,611.1 945.1,615.4 949.8,624.1 954.6,619.8 959.4,624.1 964.2,628.5 969,637.2 973.7,632.9 978.5,637.2 983.3,650.2 988.1,641.5 992.9,650.2 997.6,654.6 1002.4,663.3 1007.2,658.9 1012,667.6 1016.8,667.6 1021.5,667.6 1026.3,672 1031.1,672 1035.9,676.4 1040.7,672 1045.4,676.4 1050.2,676.4 1055,672 1059.8,667.6 1064.6,672 1069.3,667.6 1074.1,663.3 1078.9,663.3 1083.7,667.6 1088.5,663.3 1093.2,663.3 1098,663.3 1102.8,658.9 1107.6,658.9 1112.4,650.2 1112.4,658.9 1117.1,654.6 1121.9,650.2 1126.7,654.6 1131.5,650.2 1136.3,645.9 1141,650.2 1145.8,650.2 1150.6,645.9 1155.4,650.2 1160.2,650.2 1164.9,641.5 1169.7,641.5 1174.5,641.5 1179.3,632.9 1184.1,637.2 1188.8,637.2 1193.6,637.2 1198.4,637.2 1203.2,628.5 1208,637.2 1212.7,632.9 1217.5,632.9 1222.3,628.5 1222.3,619.8 1227.1,619.8 1231.9,615.4 1236.6,624.1 1241.4,615.4 1246.2,619.8 1251,619.8 1255.8,619.8 1260.5,619.8 1265.3,619.8 1270.1,611.1 1274.9,606.8 1279.7,615.4 1284.4,611.1 1289.2,615.4 1294,611.1 1298.8,606.8 1303.6,606.8 1308.3,602.4 1313.1,602.4 1317.9,602.4 1322.7,602.4 1327.5,606.8 1332.2,602.4 1337,598 1341.8,598 1346.6,593.7 1351.4,593.7 1356.1,585 1360.9,589.4 1365.7,589.4 1370.5,593.7 1375.3,593.7 1380,593.7 1384.8,589.4 1389.6,585 1394.4,589.4 1399.2,589.4 1403.9,580.6 1408.7,585 1413.5,580.6 1418.3,571.9 1423.1,576.3 1427.8,571.9 1432.6,571.9 1437.4,571.9 1442.2,571.9 1442.2,563.2 1447,571.9 1451.7,571.9 1456.5,567.6 1461.3,563.2 1466.1,567.6 1470.9,567.6 1475.6,563.2 1480.4,563.2 1485.2,554.5 1490,554.5 1494.8,558.9 1499.5,554.5 1504.3,550.2 1509.1,550.2 1513.9,545.9 1518.7,545.9 1523.4,554.5 1528.2,550.2 1533,550.2 1537.8,550.2 1542.6,545.9 1547.3,545.9 1552.1,554.5 1552.1,545.9 1556.9,545.9 1561.7,550.2 1566.5,545.9 1571.2,545.9 1576,550.2 1580.8,541.5 1585.6,545.9 1590.4,541.5 1595.1,541.5 1599.9,541.5 1604.7,545.9 1609.5,541.5 1614.3,537.1 1619,541.5 1623.8,545.9 1628.6,545.9 1633.4,537.1 1638.2,545.9 1642.9,541.5 1647.7,537.1 1652.5,541.5 1657.3,541.5 1662.1,545.9 1662.1,541.5 1666.8,537.1 1671.6,537.1 1676.4,537.1 1681.2,537.1 1686,537.1 1690.7,537.1"/>
<path fill="#f0f" d="M385 747 387.9 717.4 397.9 717.4 397.9 727.4 395 757 385 757ZM387.9 717.4 389.6 682.7 399.6 682.7 399.6 692.7 397.9 727.4 387.9 727.4ZM389.6 682.7 392 648 402 648 402 658 399.6 692.7 389.6 692.7ZM392 648 393.7 625 403.7 625 403.7 635 402 658 392 658ZM393.7 625 394.2 602 404.2 602 404.2 612 403.7 635 393.7 635ZM394.2 567.4 404.2 567.4 404.2 612 394.2 612ZM394.2 567.4 398.6 532.7 408.6 532.7 408.6 542.7 404.2 577.4 394.2 577.4ZM398.6 498 408.6 498 408.6 542.7 398.6 542.7ZM398.6 498 399.1 475 409.1 475 409.1 485 408.6 508 398.6 508ZM399.1 475 399.7 440.5 409.7 440.5 409.7 450.5 409.1 485 399.1 485ZM399.7 440.5 401.2 417.4 411.2 417.4 411.2 427.4 409.7 450.5 399.7 450.5ZM401.2 417.4 404 385 414 385 414 395 411.2 427.4 401.2 427.4ZM404 385 407 355 417 355 417 365 414 395 404 395ZM407 330 417 330 417 365 407 365ZM407 330 413 313 423 313 423 323 417 340 407 340ZM413 313 418 295 428 295 428 305 423 323 413 323ZM418 295 418.4 240 428.4 240 428.4 250 428 305 418 305ZM418.4 240 428.4 240 432.5 263 432.5 273 422.5 273 418.4 250ZM422.5 263 432.5 263 432.5 305 422.5 305ZM422.5 295 432.5 295 437.5 310 437.5 320 427.5 320 422.5 305ZM427.5 310 437.5 310 438 382.7 438 392.7 428 392.7 427.5 320ZM428 382.7 438 382.7 440 417.4 440 427.4 430 427.4 428 392.7ZM430 417.4 440 417.4 441.2 440.5 441.2 450.5 431.2 450.5 430 427.4ZM431.2 440.5 441.2 440.5 442.4 475 442.4 485 432.4 485 431.2 450.5ZM432.4 475 442.4 475 442.4 496.5 432.4 496.5ZM432.4 486.5 442.4 486.5 447.6 521 447.6 531 437.6 531 432.4 496.5ZM437.6 521 447.6 521 447.6 566 437.6 566ZM437.6 556 447.6 556 449.3 590.5 449.3 600.5 439.3 600.5 437.6 566ZM439.3 590.5 449.3 590.5 451.8 625 451.8 635 441.8 635 439.3 600.5ZM441.8 625 451.8 625 452.2 636.5 452.2 646.5 442.2 646.5 441.8 635ZM442.2 636.5 452.2 636.5 453.9 671 453.9 681 443.9 681 442.2 646.5ZM443.9 671 453.9 671 455.6 705.8 455.6 715.8 445.6 715.8 443.9 681ZM445.6 705.8 455.6 705.8 457.4 740.5 457.4 750.5 447.4 750.5 445.6 715.8ZM447.4 740.5 457.4 740.5 458 775 458 785 448 785 447.4 750.5ZM448 775 458 775 460.3 786.5 460.3 796.5 450.3 796.5 448 785ZM450.3 786.5 460.3 786.5 461.4 821 461.4 831 451.4 831 450.3 796.5ZM451.4 821 461.4 821 464.3 856 464.3 866 454.3 866 451.4 831ZM454.3 856 464.3 856 466.6 890.5 466.6 900.5 456.6 900.5 454.3 866ZM456.6 890.5 466.6 890.5 470 925 470 935 460 935 456.6 900.5ZM460 925 470 925 471 945 471 955 461 955 460 935ZM461 945 471 945 475 970 475 980 465 980 461 955ZM465 970 475 970 481 981 481 991 471 991 465 980ZM471 981 476 960 486 960 486 970 481 991 471 991ZM476 960 478 940 488 940 488 950 486 970 476 970ZM478 940 478.2 925 488.2 925 488.2 935 488 950 478 950ZM478.2 925 480.3 902 490.3 902 490.3 912 488.2 935 478.2 935ZM480.3 902 485.1 867.4 495.1 867.4 495.1 877.4 490.3 912 480.3 912ZM485.1 867.4 487.2 832.7 497.2 832.7 497.2 842.7 495.1 877.4 485.1 877.4ZM487.2 832.7 490.1 798 500.1 798 500.1 808 497.2 842.7 487.2 842.7ZM490.1 775 500.1 775 500.1 808 490.1 808ZM489.7 740.5 499.7 740.5 500.1 775 500.1 785 490.1 785 489.7 750.5ZM489.7 740.5 490.7 705.8 500.7 705.8 500.7 715.8 499.7 750.5 489.7 750.5ZM490.7 705.8 493 671 503 671 503 681 500.7 715.8 490.7 715.8ZM493 671 495.9 636.5 505.9 636.5 505.9 646.5 503 681 493 681ZM495.9 636.5 497 625 507 625 507 635 505.9 646.5 495.9 646.5ZM497 625 499.3 602 509.3 602 509.3 612 507 635 497 635ZM499.3 567.4 509.3 567.4 509.3 612 499.3 612ZM499.3 567.4 501 532.7 511 532.7 511 542.7 509.3 577.4 499.3 577.4ZM501 532.7 503.6 498 513.6 498 513.6 508 511 542.7 501 542.7ZM503.6 498 504 475 514 475 514 485 513.6 508 503.6 508ZM504 475 505.1 440.5 515.1 440.5 515.1 450.5 514 485 504 485ZM505.1 440.5 507.4 405.8 517.4 405.8 517.4 415.8 515.1 450.5 505.1 450.5ZM507.4 405.8 509.1 359.6 519.1 359.6 519.1 369.6 517.4 415.8 507.4 415.8ZM509.1 359.6 510 325 520 325 520 335 519.1 369.6 509.1 369.6ZM510 325 513.2 290.5 523.2 290.5 523.2 300.5 520 335 510 335ZM513.2 290.5 513.8 244 523.8 244 523.8 254 523.2 300.5 513.2 300.5ZM513.8 244 518 209.6 528 209.6 528 219.6 523.8 254 513.8 254ZM518 209.6 521.5 175 531.5 175 531.5 185 528 219.6 518 219.6ZM521.5 175 523.6 152 533.6 152 533.6 162 531.5 185 521.5 185ZM523.6 152 528 112 538 112 538 122 533.6 162 523.6 162ZM528 112 532 87 542 87 542 97 538 122 528 122ZM532 87 540 58 550 58 550 68 542 97 532 97ZM540 58 550 58 554 85 554 95 544 95 540 68ZM544 85 554 85 555 106 555 116 545 116 544 95ZM545 106 555 106 557.4 140 557.4 150 547.4 150 545 116ZM547.4 140 557.4 140 562 175 562 185 552 185 547.4 150ZM552 175 562 175 567 209.6 567 219.6 557 219.6 552 185ZM557 209.6 567 209.6 570 244 570 254 560 254 557 219.6ZM560 244 570 244 571.7 290.5 571.7 300.5 561.7 300.5 560 254ZM561.7 290.5 571.7 290.5 576.3 325 576.3 335 566.3 335 561.7 300.5ZM566.3 325 576.3 325 578.5 348 578.5 358 568.5 358 566.3 335ZM568.5 348 578.5 348 580.9 383 580.9 393 570.9 393 568.5 358ZM570.9 383 580.9 383 584.8 440.5 584.8 450.5 574.8 450.5 570.9 393ZM574.8 440.5 584.8 440.5 586.5 475 586.5 485 576.5 485 574.8 450.5ZM576.5 475 586.5 475 587.7 486.5 587.7 496.5 577.7 496.5 576.5 485ZM577.7 486.5 587.7 486.5 590.6 521.2 590.6 531.2 580.6 531.2 577.7 496.5ZM580.6 521.2 590.6 521.2 594 556 594 566 584 566 580.6 531.2ZM584 556 594 556 595.2 590.5 595.2 600.5 585.2 600.5 584 566ZM585.2 590.5 595.2 590.5 596.4 625 596.4 635 586.4 635 585.2 600.5ZM586.4 625 596.4 625 600.4 636.5 600.4 646.5 590.4 646.5 586.4 635ZM590.4 636.5 600.4 636.5 602.7 671.2 602.7 681.2 592.7 681.2 590.4 646.5ZM592.7 671.2 602.7 671.2 606.8 705.8 606.8 715.8 596.8 715.8 592.7 681.2ZM596.8 705.8 606.8 705.8 610.2 740.5 610.2 750.5 600.2 750.5 596.8 715.8ZM600.2 740.5 610.2 740.5 613.1 775 613.1 785 603.1 785 600.2 750.5ZM603.1 775 613.1 775 614.3 786.5 614.3 796.5 604.3 796.5 603.1 785ZM604.3 786.5 614.3 786.5 619.5 832.7 619.5 842.7 609.5 842.7 604.3 796.5ZM609.5 832.7 619.5 832.7 624.7 867.4 624.7 877.4 614.7 877.4 609.5 842.7ZM614.7 867.4 624.7 867.4 629.3 890.5 629.3 900.5 619.3 900.5 614.7 877.4ZM619.3 890.5 629.3 890.5 637.9 925 637.9 935 627.9 935 619.3 900.5ZM627.9 925 637.9 925 641 945 641 955 631 955 627.9 935ZM631 945 641 945 643 965 643 975 633 975 631 955ZM633 965 643 965 644 980 644 990 634 990 633 975ZM634 980 657 980 657 990 634 990ZM647 980 673 980 673 990 647 990ZM663 955 673 955 673 990 663 990ZM663 955 669 940 679 940 679 950 673 965 663 965ZM669 940 674.7 925 684.7 925 684.7 935 679 950 669 950ZM674.7 925 676.4 913.6 686.4 913.6 686.4 923.6 684.7 935 674.7 935ZM676.4 913.6 680.5 890.5 690.5 890.5 690.5 900.5 686.4 923.6 676.4 923.6ZM680.5 890.5 683.9 867.4 693.9 867.4 693.9 877.4 690.5 900.5 680.5 900.5ZM683.9 867.4 686.2 844.3 696.2 844.3 696.2 854.3 693.9 877.4 683.9 877.4ZM686.2 844.3 690.9 809.6 700.9 809.6 700.9 819.6 696.2 854.3 686.2 854.3ZM690.9 809.6 694.9 786.5 704.9 786.5 704.9 796.5 700.9 819.6 690.9 819.6ZM694.9 786.5 695.5 775 705.5 775 705.5 785 704.9 796.5 694.9 796.5ZM695.5 775 697.8 740.5 707.8 740.5 707.8 750.5 705.5 785 695.5 785ZM697.8 740.5 700.7 705.8 710.7 705.8 710.7 715.8 707.8 750.5 697.8 750.5ZM700.7 705.8 705.3 671.2 715.3 671.2 715.3 681.2 710.7 715.8 700.7 715.8ZM705.3 671.2 709.3 636.5 719.3 636.5 719.3 646.5 715.3 681.2 705.3 681.2ZM709.3 636.5 710.2 625 720.2 625 720.2 635 719.3 646.5 709.3 646.5ZM710.2 625 712.8 590.5 722.8 590.5 722.8 600.5 720.2 635 710.2 635ZM712.8 590.5 715.1 555.8 725.1 555.8 725.1 565.8 722.8 600.5 712.8 600.5ZM715.1 555.8 719.4 521.2 729.4 521.2 729.4 531.2 725.1 565.8 715.1 565.8ZM719.4 521.2 719.7 486.5 729.7 486.5 729.7 496.5 729.4 531.2 719.4 531.2ZM719.7 486.5 720.3 475 730.3 475 730.3 485 729.7 496.5 719.7 496.5ZM720.3 475 725 452 735 452 735 462 730.3 485 720.3 485ZM725 452 729.5 429 739.5 429 739.5 439 735 462 725 462ZM729.5 429 733.8 394.3 743.8 394.3 743.8 404.3 739.5 439 729.5 439ZM733.8 394.3 738.8 359.6 748.8 359.6 748.8 369.6 743.8 404.3 733.8 404.3ZM738.8 359.6 745.1 336.5 755.1 336.5 755.1 346.5 748.8 369.6 738.8 369.6ZM745.1 336.5 749.8 325 759.8 325 759.8 335 755.1 346.5 745.1 346.5Z"/>
<polyline fill="none" stroke="#f0f" points="390,752 392.9,722.4 394.6,687.7 397,653 398.7,630 399.2,607 399.2,572.4 403.6,537.7 403.6,503 404.1,480 404.7,445.5 406.2,422.4 409,390 412,360 412,335 418,318 423,300 423.4,245 427.5,268 427.5,300 432.5,315 433,387.7 435,422.4 436.2,445.5 437.4,480 437.4,491.5 442.6,526 442.6,561 444.3,595.5 446.8,630 447.2,641.5 448.9,676 450.6,710.8 452.4,745.5 453,780 455.3,791.5 456.4,826 459.3,861 461.6,895.5 465,930 466,950 470,975 476,986 481,965 483,945 483.2,930 485.3,907 490.1,872.4 492.2,837.7 495.1,803 495.1,780 494.7,745.5 495.7,710.8 498,676 500.9,641.5 502,630 504.3,607 504.3,572.4 506,537.7 508.6,503 509,480 510.1,445.5 512.4,410.8 514.1,364.6 515,330 518.2,295.5 518.8,249 523,214.6 526.5,180 528.6,157 533,117 537,92 545,63 549,90 550,111 552.4,145 557,180 562,214.6 565,249 566.7,295.5 571.3,330 573.5,353 575.9,388 579.8,445.5 581.5,480 582.7,491.5 585.6,526.2 589,561 590.2,595.5 591.4,630 595.4,641.5 597.7,676.2 601.8,710.8 605.2,745.5 608.1,780 609.3,791.5 614.5,837.7 619.7,872.4 624.3,895.5 632.9,930 636,950 638,970 639,985 652,985 668,985 668,960 674,945 679.7,930 681.4,918.6 685.5,895.5 688.9,872.4 691.2,849.3 695.9,814.6 699.9,791.5 700.5,780 702.8,745.5 705.7,710.8 710.3,676.2 714.3,641.5 715.2,630 717.8,595.5 720.1,560.8 724.4,526.2 724.7,491.5 725.3,480 730,457 734.5,434 738.8,399.3 743.8,364.6 750.1,341.5 754.8,330 758.6,324 763.4,284.9 768.2,284.9 773,289.2 777.8,297.9 782.5,280.5 787.3,258.8 787.3,284.9 792.1,263.1 796.9,293.6 801.7,280.5 806.4,310.9 811.2,293.6 816,289.2 820.8,293.6 825.6,315.3 830.3,337.1 835.1,354.4 839.9,350.1 844.7,345.8 849.5,367.5 854.2,354.4 859,384.9 863.8,376.2 868.6,411 873.4,415.3 878.1,415.3 882.9,406.6 887.7,428.4 892.5,432.8 897.3,428.4 897.3,437.1 902,463.2 906.8,463.2 911.6,480.6 916.4,493.6 921.2,489.3 925.9,515.4 930.7,519.8 935.5,524.1 940.3,537.1 945.1,541.5 949.8,563.2 954.6,550.2 959.4,580.6 964.2,585 969,585 973.7,593.7 978.5,598 983.3,606.8 988.1,615.4 992.9,611.1 997.6,628.5 1002.4,632.9 1007.2,628.5 1007.2,637.2 1012,632.9 1016.8,645.9 1021.5,650.2 1026.3,667.6 1031.1,658.9 1035.9,663.3 1040.7,667.6 1045.4,667.6 1050.2,667.6 1055,685 1059.8,672 1064.6,676.4 1069.3,676.4 1074.1,685 1078.9,698.1 1083.7,702.4 1088.5,689.4 1093.2,689.4 1098,689.4 1102.8,685 1107.6,693.8 1112.4,693.8 1112.4,706.8 1117.1,693.8 1121.9,693.8 1126.7,689.4 1131.5,689.4 1136.3,702.4 1141,702.4 1145.8,693.8 1150.6,693.8 1155.4,702.4 1160.2,698.1 1164.9,702.4 1169.7,702.4 1174.5,698.1 1179.3,689.4 1184.1,698.1 1188.8,698.1 1193.6,698.1 1198.4,702.4 1203.2,702.4 1208,693.8 1212.7,698.1 1217.5,680.7 1222.3,698.1 1222.3,693.8 1227.1,698.1 1231.9,698.1 1236.6,685 1241.4,689.4 1246.2,693.8 1251,685 1255.8,685 1260.5,680.7 1265.3,689.4 1270.1,685 1274.9,676.4 1279.7,672 1284.4,667.6 1289.2,685 1294,676.4 1298.8,672 1303.6,672 1308.3,667.6 1313.1,672 1317.9,672 1322.7,654.6 1327.5,663.3 1332.2,663.3 1332.2,658.9 1337,658.9 1341.8,667.6 1346.6,658.9 1351.4,658.9 1356.1,658.9 1360.9,641.5 1365.7,658.9 1370.5,650.2 1375.3,645.9 1380,650.2 1384.8,654.6 1389.6,637.2 1394.4,637.2 1399.2,641.5 1403.9,628.5 1408.7,628.5 1413.5,632.9 1418.3,637.2 1423.1,632.9 1427.8,632.9 1432.6,632.9 1437.4,619.8 1442.2,619.8 1447,615.4 1451.7,619.8 1456.5,619.8 1461.3,602.4 1466.1,615.4 1470.9,602.4 1475.6,602.4 1480.4,611.1 1485.2,611.1 1490,606.8 1494.8,602.4 1499.5,606.8 1504.3,589.4 1509.1,598 1513.9,589.4 1518.7,589.4 1523.4,585 1528.2,598 1533,598 1537.8,593.7 1542.6,585 1547.3,585 1552.1,576.3 1552.1,580.6 1556.9,589.4 1561.7,589.4 1566.5,585 1571.2,585 1576,576.3 1580.8,580.6 1585.6,576.3 1590.4,576.3 1595.1,567.6 1599.9,576.3 1604.7,567.6 1609.5,567.6 1614.3,567.6 1619,571.9 1623.8,571.9 1628.6,563.2 1633.4,558.9 1638.2,567.6 1642.9,567.6 1647.7,563.2 1652.5,567.6 1657.3,571.9 1662.1,563.2 1662.1,571.9 1666.8,563.2 1671.6,563.2 1676.4,567.6 1681.2,563.2 1686,558.9 1690.7,558.9"/>
</g>
<g fill="#000" shape-rendering="crispEdges">
<rect x="320" y="36" width="6" height="1077"/>
<rect x="277" y="1083" width="1426" height="6"/>
<rect x="277" y="574" width="1419" height="6"/>
<rect x="320" y="1089" width="6" height="24"/>
<rect x="368" y="1089" width="6" height="24"/>
<rect x="411" y="1089" width="6" height="43"/>
<rect x="459" y="1089" width="6" height="24"/>
<rect x="502" y="1089" width="6" height="24"/>
<rect x="549" y="1089" width="6" height="24"/>
<rect x="597" y="1089" width="6" height="24"/>
<rect x="640" y="1089" width="6" height="43"/>
<rect x="688" y="1089" width="6" height="24"/>
<rect x="731" y="1089" width="6" height="24"/>
<rect x="779" y="1089" width="6" height="24"/>
<rect x="827" y="1089" width="6" height="24"/>
<rect x="870" y="1089" width="6" height="43"/>
<rect x="917" y="1089" width="6" height="24"/>
<rect x="960" y="1089" width="6" height="24"/>
<rect x="1008" y="1089" width="6" height="24"/>
<rect x="1057" y="1089" width="5" height="24"/>
<rect x="1100" y="1089" width="5" height="43"/>
<rect x="1147" y="1089" width="6" height="24"/>
<rect x="1190" y="1089" width="6" height="24"/>
<rect x="1238" y="1089" width="6" height="24"/>
<rect x="1286" y="1089" width="5" height="24"/>
<rect x="1329" y="1089" width="5" height="43"/>
<rect x="1377" y="1089" width="6" height="24"/>
<rect x="1420" y="1089" width="5" height="24"/>
<rect x="1468" y="1089" width="5" height="24"/>
<rect x="1515" y="1089" width="6" height="24"/>
<rect x="1558" y="1089" width="6" height="43"/>
<rect x="1606" y="1089" width="6" height="24"/>
<rect x="1649" y="1089" width="6" height="24"/>
<rect x="1697" y="1089" width="6" height="24"/>
<rect x="277" y="60" width="43" height="6"/>
<rect x="296" y="112" width="24" height="6"/>
<rect x="296" y="165" width="24" height="5"/>
<rect x="296" y="217" width="24" height="5"/>
<rect x="296" y="265" width="24" height="5"/>
<rect x="277" y="317" width="43" height="5"/>
<rect x="296" y="369" width="24" height="6"/>
<rect x="296" y="417" width="24" height="6"/>
<rect x="296" y="469" width="24" height="6"/>
<rect x="296" y="521" width="24" height="6"/>
<rect x="277" y="574" width="43" height="6"/>
<rect x="296" y="621" width="24" height="6"/>
<rect x="296" y="674" width="24" height="6"/>
<rect x="296" y="726" width="24" height="6"/>
<rect x="296" y="779" width="24" height="5"/>
<rect x="277" y="826" width="43" height="6"/>
<rect x="296" y="878" width="24" height="6"/>
<rect x="296" y="931" width="24" height="5"/>
<rect x="296" y="983" width="24" height="6"/>
<rect x="296" y="1031" width="24" height="6"/>
<rect x="277" y="1083" width="43" height="6"/>
</g>
<g>
<text x="220" y="85">1</text>
<text x="156" y="342">0.5</text>
<text x="218" y="599">0</text>
<text x="113 156" y="852">&#8722;0.5</text>
<text x="175 220" y="1107">&#8722;1</text>
<text x="352" y="1218">300</text>
<text x="581" y="1218">350</text>
<text x="810" y="1218">400</text>
<text x="1038.5" y="1218">450</text>
<text x="1270" y="1218">500</text>
<text x="1498.5" y="1218">550</text>
<text class="t" x="782" y="1308">Wavelength, nm</text>
<text class="t" transform="translate(79,800) rotate(-90)" x="0" y="0">Intensity, A.U.</text>
</g>
</svg>
</body></html>
